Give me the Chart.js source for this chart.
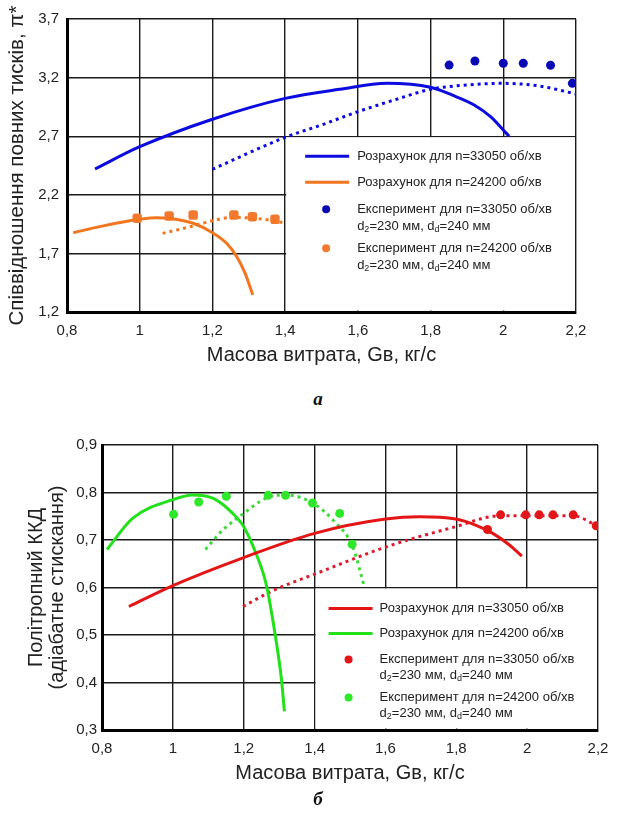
<!DOCTYPE html>
<html>
<head>
<meta charset="utf-8">
<script src="https://cdn.jsdelivr.net/npm/chart.js@4/dist/chart.umd.min.js"></script>
<style>
  html, body { margin: 0; padding: 0; background: #fff; }
  #page { position: relative; width: 623px; height: 814px; }
  .box { position: absolute; left: 0; width: 623px; }
  #boxA { top: 0; height: 372px; }
  #boxB { top: 425px; height: 365px; }
  .cap { position: absolute; left: 0; width: 636px; text-align: center;
         font: bold italic 19px "Liberation Serif", "Times New Roman", serif; color: #111; }
</style>
</head>
<body>
<div id="page">
  <div class="box" id="boxA"><canvas id="chartA"></canvas></div>
  <div class="cap" style="top:388px">а</div>
  <div class="box" id="boxB"><canvas id="chartB"></canvas></div>
  <div class="cap" style="top:788px">б</div>
</div>
<script>
// ── Data: (а) total pressure ratio ──────────────────────────────────────────
const calcHiX  = [0.877, 1.0, 1.2, 1.4, 1.55, 1.68, 1.8, 1.86, 1.92, 1.965, 2.0, 2.016];
const calcHiY  = [2.42, 2.61, 2.845, 3.023, 3.10, 3.151, 3.117, 3.05, 2.966, 2.866, 2.753, 2.70];
const trendHiX = [1.2, 1.4, 1.5, 1.6, 1.7, 1.8, 1.9, 2.0, 2.1, 2.2];
const trendHiY = [2.418, 2.69, 2.796, 2.909, 3.009, 3.10, 3.137, 3.151, 3.128, 3.06];
const expHiX   = [1.851, 1.922, 2.0, 2.055, 2.13, 2.19];
const expHiY   = [3.307, 3.342, 3.322, 3.322, 3.305, 3.151];

const calcLoX  = [0.817, 0.9, 1.0, 1.047, 1.083, 1.147, 1.2, 1.239, 1.267, 1.29, 1.311];
const calcLoY  = [1.877, 1.935, 1.991, 2.005, 1.998, 1.957, 1.877, 1.786, 1.672, 1.53, 1.345];
const trendLoX = [1.063, 1.147, 1.2, 1.257, 1.312, 1.367, 1.402];
const trendLoY = [1.871, 1.934, 1.979, 2.008, 2.0, 1.979, 1.957];
const expLoX   = [0.993, 1.081, 1.147, 1.259, 1.31, 1.372];
const expLoY   = [2.0, 2.019, 2.027, 2.027, 2.013, 1.991];

// ── Data: (б) polytropic efficiency ─────────────────────────────────────────
const effCalcHiX  = [0.876, 1.0, 1.2, 1.4, 1.6, 1.696, 1.798, 1.856, 1.903, 1.951, 1.985];
const effCalcHiY  = [0.56, 0.604, 0.663, 0.714, 0.744, 0.749, 0.744, 0.731, 0.714, 0.689, 0.666];
const effTrendHiX = [1.198, 1.284, 1.4, 1.6, 1.798, 1.922, 2.0, 2.13, 2.195];
const effTrendHiY = [0.56, 0.594, 0.628, 0.685, 0.728, 0.751, 0.751, 0.751, 0.731];
const effExpHiX   = [1.888, 1.925, 1.996, 2.034, 2.073, 2.13, 2.195];
const effExpHiY   = [0.722, 0.753, 0.753, 0.753, 0.753, 0.753, 0.73];

const effCalcLoX  = [0.814, 0.887, 1.0, 1.056, 1.113, 1.169, 1.2, 1.235, 1.263, 1.287, 1.306, 1.315];
const effCalcLoY  = [0.68, 0.746, 0.785, 0.795, 0.788, 0.756, 0.728, 0.671, 0.608, 0.509, 0.41, 0.339];
const effTrendLoX = [1.092, 1.141, 1.2, 1.263, 1.32, 1.396, 1.452, 1.508, 1.541];
const effTrendLoY = [0.68, 0.721, 0.756, 0.788, 0.795, 0.777, 0.742, 0.685, 0.6];
const effExpLoX   = [1.002, 1.073, 1.151, 1.269, 1.318, 1.394, 1.471, 1.506];
const effExpLoY   = [0.754, 0.78, 0.792, 0.794, 0.794, 0.778, 0.756, 0.691];

// ── Axis ranges / labels ─────────────────────────────────────────────────────
const xRange = [0.8, 2.2, 0.2];
const yRangeA = [1.2, 3.7, 0.5];
const yRangeB = [0.3, 0.9, 0.1];
const xTitle = 'Масова витрата, Gв, кг/с';
const yTitleA = 'Співвідношення повних тисків, π*';
const yTitleB = ['Політропний ККД', '(адіабатне стискання)'];

const calcLabelHi = 'Розрахунок для n=33050 об/хв';
const calcLabelLo = 'Розрахунок для n=24200 об/хв';
const expLabelHi  = 'Експеримент для n=33050 об/хв';
const expLabelLo  = 'Експеримент для n=24200 об/хв';
// second line: d₂=230 мм, d_d=240 мм  (runs: [text, isSubscript])
const expNote = [['d', 0], ['2', 1], ['=230 мм, d', 0], ['d', 1], ['=240 мм', 0]];

const FONT = '"Liberation Sans", Arial, sans-serif';

function pts(xs, ys) { return xs.map((x, i) => ({ x: x, y: ys[i] })); }
function fmt_tick(v) { return (Math.round(v * 10) / 10).toString().replace('.', ','); }

function line_ds(xs, ys, color, dashed) {
  return {
    data: pts(xs, ys), showLine: true, borderColor: color, backgroundColor: color,
    borderWidth: 3, pointRadius: 0, cubicInterpolationMode: 'monotone',
    borderDash: dashed ? [3, 4] : [], borderCapStyle: 'butt', fill: false,
  };
}
function dot_ds(xs, ys, color, style, r) {
  return {
    data: pts(xs, ys), showLine: false, backgroundColor: color, borderColor: color,
    borderWidth: 0, pointRadius: r || 4.5, pointStyle: style || 'circle',
  };
}

// legend drawn inside a white box covering the lower-right grid cells
const boxLegend = {
  id: 'boxLegend',
  beforeDatasetsDraw(chart, args, o) {
    const { ctx, scales: { x, y } } = chart;
    const l = x.getPixelForValue(o.fromX), r = x.getPixelForValue(x.max);
    const t = y.getPixelForValue(o.fromY), b = y.getPixelForValue(y.min);
    ctx.save();
    ctx.fillStyle = '#fff';
    ctx.fillRect(l + 1, t + 1, r - l - 2, b - t - 2.5);
    ctx.restore();
  },
  afterDraw(chart, args, o) {
    const { ctx, scales: { x, y } } = chart;
    const l = x.getPixelForValue(o.fromX), t = y.getPixelForValue(o.fromY);
    const ds = chart.data.datasets;
    ctx.save();
    ctx.textBaseline = 'middle';
    o.items.forEach(it => {
      const d = ds[it.ds];
      const cy = t + it.dy;
      if (it.kind === 'line') {
        ctx.strokeStyle = d.borderColor; ctx.lineWidth = 3;
        ctx.beginPath(); ctx.moveTo(l + o.lineX[0], cy); ctx.lineTo(l + o.lineX[1], cy); ctx.stroke();
      } else {
        ctx.fillStyle = d.backgroundColor;
        ctx.beginPath(); ctx.arc(l + o.dotX, cy, 4, 0, Math.PI * 2); ctx.fill();
      }
      ctx.fillStyle = '#222';
      ctx.font = '13px ' + FONT;
      ctx.fillText(it.text, l + o.textX, cy);
      if (it.note) {
        let tx = l + o.textX;
        const ny = cy + o.noteDy;
        expNote.forEach(([s, sub]) => {
          ctx.font = (sub ? '9px ' : '13px ') + FONT;
          ctx.fillText(s, tx, ny + (sub ? 3 : 0));
          tx += ctx.measureText(s).width;
        });
      }
    });
    ctx.restore();
  }
};

function make_chart(id, datasets, yRange, yTitle, yTitleSize, yPad, titlePadTop, axisW, rightPad, topPad, legendOpts) {
  return new Chart(document.getElementById(id), {
    type: 'scatter',
    data: { datasets },
    plugins: [boxLegend],
    options: {
      responsive: true,
      maintainAspectRatio: false,
      animation: false,
      layout: { padding: { left: 0, right: rightPad, top: topPad, bottom: 0 } },
      plugins: { legend: { display: false }, tooltip: { enabled: false }, boxLegend: legendOpts },
      scales: {
        x: {
          type: 'linear', min: xRange[0], max: xRange[1],
          ticks: { stepSize: xRange[2], callback: fmt_tick, color: '#222', padding: 10,
                   maxRotation: 0, minRotation: 0, font: { family: FONT, size: 15 } },
          grid: { color: '#1a1a1a', lineWidth: 1.4, drawTicks: false },
          border: { display: true, color: '#000', width: 3 },
          title: { display: true, text: xTitle, color: '#222', font: { family: FONT, size: 20 },
                   padding: { top: 0, bottom: 5 } },
          afterFit: s => { s.height = 60; },
        },
        y: {
          type: 'linear', min: yRange[0], max: yRange[1],
          ticks: { stepSize: yRange[2], callback: fmt_tick, color: '#222', padding: yPad,
                   font: { family: FONT, size: 15 } },
          grid: { color: '#1a1a1a', lineWidth: 1.4, drawTicks: false },
          border: { display: true, color: '#000', width: 3 },
          title: { display: true, text: yTitle, color: '#222',
                   font: { family: FONT, size: yTitleSize, lineHeight: 1.05 },
                   padding: { top: titlePadTop, bottom: 0 } },
          afterFit: s => { s.width = axisW; },
        },
      },
    },
  });
}

// ── Chart а ──────────────────────────────────────────────────────────────────
const BLUE = '#0b0be0', BLUE_DOT = '#0a0ab4', ORANGE = '#f2761f', ORANGE_DOT = '#f27a30';
make_chart('chartA', [
  line_ds(calcHiX, calcHiY, BLUE, false),
  line_ds(calcLoX, calcLoY, ORANGE, false),
  line_ds(trendHiX, trendHiY, BLUE, true),
  line_ds(trendLoX, trendLoY, ORANGE, true),
  dot_ds(expHiX, expHiY, BLUE_DOT, 'circle', 4.5),
  dot_ds(expLoX, expLoY, ORANGE_DOT, 'rectRounded', 5.5),
], yRangeA, yTitleA, 20.5, 8, 7, 67, 47, 19, {
  fromX: 1.4, fromY: 2.7, lineX: [20, 64], dotX: 41, textX: 72, noteDy: 17,
  items: [
    { kind: 'line', ds: 0, dy: 20, text: calcLabelHi },
    { kind: 'line', ds: 1, dy: 46, text: calcLabelLo },
    { kind: 'dot', ds: 4, dy: 73, text: expLabelHi, note: true },
    { kind: 'dot', ds: 5, dy: 112, text: expLabelLo, note: true },
  ],
});

// ── Chart б ──────────────────────────────────────────────────────────────────
const RED = '#e31515', RED_DASH = '#dc1c2c', GREEN = '#22e01a', GREEN_DASH = '#3ed83a', GREEN_DOT = '#2ee82a';
make_chart('chartB', [
  line_ds(effCalcHiX, effCalcHiY, RED, false),
  line_ds(effCalcLoX, effCalcLoY, GREEN, false),
  line_ds(effTrendHiX, effTrendHiY, RED_DASH, true),
  line_ds(effTrendLoX, effTrendLoY, GREEN_DASH, true),
  dot_ds(effExpHiX, effExpHiY, RED, 'circle', 4.5),
  dot_ds(effExpLoX, effExpLoY, GREEN_DOT, 'circle', 4.5),
], yRangeB, yTitleB, 20, 5, 26, 102, 25, 20, {
  fromX: 1.4, fromY: 0.6, lineX: [14, 58], dotX: 34, textX: 65, noteDy: 16,
  items: [
    { kind: 'line', ds: 0, dy: 21, text: calcLabelHi },
    { kind: 'line', ds: 1, dy: 46, text: calcLabelLo },
    { kind: 'dot', ds: 4, dy: 72, text: expLabelHi, note: true },
    { kind: 'dot', ds: 5, dy: 110, text: expLabelLo, note: true },
  ],
});
</script>
</body>
</html>
